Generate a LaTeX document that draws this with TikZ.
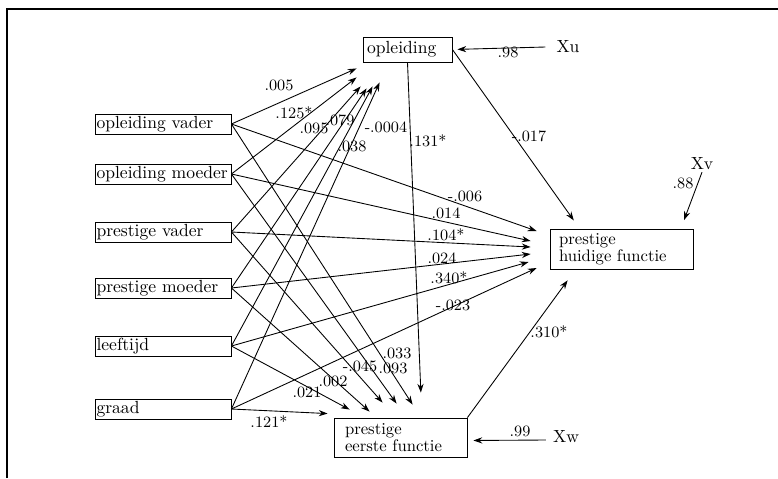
\documentclass[tikz,border=0pt]{standalone}
\usepackage{tikz}
\usetikzlibrary{arrows.meta}

\begin{document}
\begin{tikzpicture}[x=0.02cm, y=-0.02cm,
  vbox/.style={rectangle, draw, line width=0.5pt, text width=2.66cm, inner xsep=0.03cm,
               inner ysep=0pt, minimum height=0.4cm, text height=7pt, text depth=2pt,
               align=left, font=\normalsize},
  obox/.style={rectangle, draw, line width=0.5pt, text width=1.62cm, inner xsep=0.08cm,
               inner ysep=0pt, minimum height=0.5cm, text height=7pt, text depth=2pt,
               align=left, font=\normalsize},
  fbox/.style={rectangle, draw, line width=0.5pt, inner ysep=0pt, align=left,
               font=\fontsize{9.5}{8.5}\selectfont},
  lbl/.style={font=\small, inner sep=0.5pt},
  res/.style={font=\normalsize, inner sep=1pt},
  arr/.style={-{Stealth[length=5pt, width=3.5pt]}, line width=0.5pt}
]
\useasboundingbox (0,0) rectangle (778,478);

% Frame
\draw[line width=0.7pt] (7,478) -- (7,9) -- (778,9);

% Background variables
\node[vbox] (ov) at (163,124) {opleiding vader};
\node[vbox] (om) at (163,174) {opleiding moeder};
\node[vbox] (pv) at (163,232) {prestige vader};
\node[vbox] (pm) at (163,288) {prestige moeder};
\node[vbox] (lt) at (163,346) {leeftijd};
\node[vbox] (gr) at (163,409) {graad};

% Outcome variables
\node[obox] (opl) at (407.5,49.5) {opleiding};
\node[fbox, text width=2.5cm, inner xsep=0.18cm, minimum height=0.8cm] (hf) at (621.5,249)
  {prestige\\huidige functie};
\node[fbox, text width=2.22cm, inner xsep=0.22cm, minimum height=0.78cm] (ef) at (400.5,437.5)
  {prestige\\eerste functie};

% Residuals
\node[res] (xu) at (568,47)  {Xu};
\node[res] (xv) at (702,164) {Xv};
\node[res] (xw) at (566,437) {Xw};

% Arrows to opleiding
\draw[arr] (ov.east) -- ([shift={(-6,6)}]opl.south west);
\draw[arr] (om.east) -- ([shift={(-6,15)}]opl.south west);
\draw[arr] (pv.east) -- ([shift={(-2,24)}]opl.south west);
\draw[arr] (pm.east) -- ([shift={(4,26)}]opl.south west);
\draw[arr] (lt.east) -- ([shift={(10,24)}]opl.south west);
\draw[arr] (gr.east) -- ([shift={(17,20)}]opl.south west);

% Arrows to prestige huidige functie
\draw[arr] (ov.east) -- ([shift={(-13,-18)}]hf.west);
\draw[arr] (om.east) -- ([shift={(-19,-8)}]hf.west);
\draw[arr] (pv.east) -- ([shift={(-19,-2)}]hf.west);
\draw[arr] (pm.east) -- ([shift={(-19,5)}]hf.west);
\draw[arr] (lt.east) -- ([shift={(-21,13)}]hf.west);
\draw[arr] (gr.east) -- ([shift={(-13,19)}]hf.west);

% Arrows to prestige eerste functie
\draw[arr] (ov.east) -- ([shift={(79,-13)}]ef.north west);
\draw[arr] (om.east) -- ([shift={(63,-14)}]ef.north west);
\draw[arr] (pv.east) -- ([shift={(49,-15)}]ef.north west);
\draw[arr] (pm.east) -- ([shift={(36,-6)}]ef.north west);
\draw[arr] (lt.east) -- ([shift={(16,-8)}]ef.north west);
\draw[arr] (gr.east) -- ([shift={(-6,-4)}]ef.north west);

% Paths between outcomes
\draw[arr, shorten >=0.2cm]  (opl.east) -- (hf.154);
\draw[arr, shorten >=0.5cm]  (opl.south) -- (ef.43);
\draw[arr, shorten >=0.27cm] (ef.north east) -- (hf.204);

% Residual arrows
\draw[arr, shorten >=0.1cm]  ([shift={(-9,0)}]xu.west) -- (opl.east);
\draw[arr, shorten >=0.18cm] (xv.south) -- (hf.19.5);
\draw[arr, shorten >=0.12cm] ([shift={(-5,3)}]xw.west) -- ([shift={(0,3)}]ef.east);

% Coefficients
\node[lbl] (c1)  at (279,85)  {.005};
\node[lbl] (c2)  at (294,113) {.125*};
\node[lbl] (c3)  at (314,128) {.095};
\node[lbl] (c4)  at (340,120) {.079};
\node[lbl] (c5)  at (352,146) {.038};
\node[lbl] (c6)  at (386,127) {-.0004};
\node[lbl] (c7)  at (428,141) {.131*};
\node[lbl] (c8)  at (465,196) {-.006};
\node[lbl] (c9)  at (446,213) {.014};
\node[lbl] (c10) at (446,235) {.104*};
\node[lbl] (c11) at (442,258) {.024};
\node[lbl] (c12) at (449,278) {.340*};
\node[lbl] (c13) at (453,305) {-.023};
\node[lbl] (c14) at (529,136) {-.017};
\node[lbl] (c15) at (549,332) {.310*};
\node[lbl] (c16) at (397,353) {.033};
\node[lbl] (c17) at (360,366) {-.045};
\node[lbl] (c18) at (393,368) {.093};
\node[lbl] (c19) at (333,381) {.002};
\node[lbl] (c20) at (307,392) {.021};
\node[lbl] (c21) at (269,422) {.121*};
\node[lbl] (c22) at (508,52)  {.98};
\node[lbl] (c23) at (683,183) {.88};
\node[lbl] (c24) at (520,431) {.99};
\end{tikzpicture}
\end{document}
